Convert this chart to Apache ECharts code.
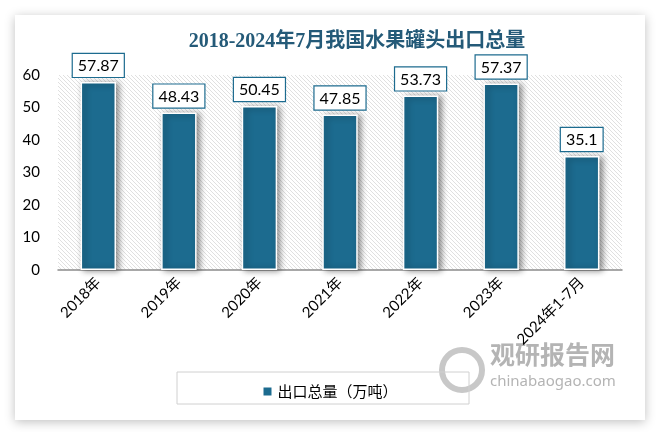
<!DOCTYPE html>
<html><head><meta charset="utf-8">
<script src="https://cdn.jsdelivr.net/npm/echarts@6/dist/echarts.min.js"></script>
<style>html,body{margin:0;padding:0;background:#fff;}#c{width:659px;height:432px;}</style>
</head><body><div id="c"></div>
<script>
const categories = ['2018年','2019年','2020年','2021年','2022年','2023年','2024年1-7月'];
const values = [57.87, 48.43, 50.45, 47.85, 53.73, 57.37, 35.1];
const seriesName = '出口总量（万吨）';
const titleText = '2018-2024年7月我国水果罐头出口总量';

const pc = document.createElement('canvas');
pc.width = 4; pc.height = 4;
const ctx = pc.getContext('2d');
ctx.fillStyle = '#ffffff'; ctx.fillRect(0,0,4,4);
ctx.fillStyle = '#e0e0e0';
for (let i = 0; i < 4; i++) { ctx.fillRect(i, i, 1, 1); }

const chart = echarts.init(document.getElementById('c'));
const teal = '#1c6b8f';
chart.setOption({
  animation: false,
  backgroundColor: '#ffffff',
  graphic: [
    {type:'rect', z:-10, shape:{x:15,y:15,width:630,height:405}, style:{fill:'#fff', shadowBlur:10, shadowColor:'rgba(0,0,0,0.25)', shadowOffsetX:0, shadowOffsetY:2}},
    {type:'rect', z:1, shape:{x:177,y:372,width:292,height:32}, style:{fill:'none', stroke:'#d0d0d0', lineWidth:1}},
    {type:'circle', z:0, shape:{cx:462,cy:370,r:20}, style:{fill:'none', stroke:'#c8c8c8', lineWidth:6}},
    {type:'text', z:0, left:490, top:342, style:{text:'观研报告网', fill:'#b4b4b4', font:'bold 25px "Noto Sans CJK SC"'}},
    {type:'text', z:0, left:490, top:374, style:{text:'chinabaogao.com', fill:'#b4b4b4', font:'15px "Noto Sans"'}}
  ],
  title: {
    text: titleText, left: 352, top: 27, textAlign: 'center',
    textStyle: {color:'#245a78', fontSize:20, fontWeight:600, fontFamily:'"Liberation Serif", "Noto Sans CJK SC"'}
  },
  legend: {
    data:[seriesName], left:'center', top:379, itemWidth:10, itemHeight:10, itemGap:6,
    textStyle:{fontSize:15, color:'#000', fontFamily:'"Noto Sans CJK SC"'}, icon:'rect'
  },
  grid: {left:58, right:37, top:75, bottom:162, show:true, backgroundColor:{image:pc, repeat:'repeat'}, borderWidth:0},
  xAxis: {
    type:'category', data:categories,
    axisLine:{lineStyle:{color:'#8c8c8c', width:1.5}}, axisTick:{show:false},
    axisLabel:{rotate:45, color:'#000', fontSize:15, fontFamily:'Lato, "Noto Sans CJK SC"', margin:10, interval:0}
  },
  yAxis: {
    type:'value', min:0, max:60, interval:10,
    axisLine:{show:false}, axisTick:{show:false}, splitLine:{show:false},
    axisLabel:{color:'#000', fontSize:15, fontFamily:'Lato', margin:18}
  },
  series: [{
    name: seriesName, type:'bar', data: values, barWidth:'44%',
    itemStyle:{color:teal, borderColor:'#fff', borderWidth:1.5, shadowBlur:6, shadowColor:'rgba(0,0,0,0.45)', shadowOffsetX:3, shadowOffsetY:1},
    label:{show:true, position:'top', distance:5, color:'#000', fontSize:16, fontFamily:'Lato',
      backgroundColor:'#fff', borderColor:teal, borderWidth:1.2, padding:[4,5,3,5]}
  }]
});
</script></body></html>
